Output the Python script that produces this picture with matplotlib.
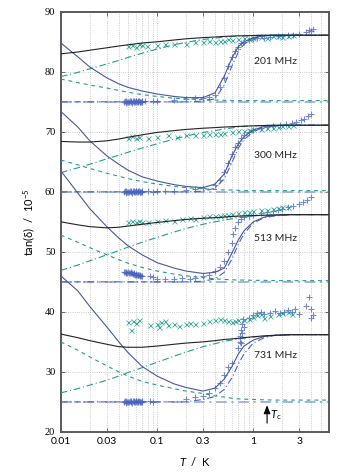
import matplotlib
matplotlib.use("Agg")
import matplotlib.pyplot as plt
from matplotlib.ticker import FixedLocator, NullFormatter

plt.rcParams['font.family'] = ['Lato', 'DejaVu Sans']
plt.rcParams['mathtext.fontset'] = 'custom'
plt.rcParams['mathtext.it'] = 'Lato:italic'
plt.rcParams['mathtext.rm'] = 'Lato'

# frequencies and baselines
freq_labels = ["201 MHz", "300 MHz", "513 MHz", "731 MHz"]
baselines = [75, 60, 45, 25]
label_y = [81.8, 66.0, 52.3, 32.8]

# temperature grid of the fit curves (K)
T_fit = [0.01, 0.015, 0.02, 0.03, 0.04, 0.05, 0.07, 0.1, 0.15, 0.2, 0.3, 0.4,
         0.5, 0.6, 0.7, 0.8, 1.0, 1.3, 1.7, 2.5, 4.0, 6.0]

# 201 MHz
f201_upper = [83.0, 83.3, 83.6, 84.0, 84.3, 84.5, 84.8, 85.0, 85.3, 85.5, 85.7, 85.8,
              85.9, 85.95, 86.0, 86.0, 86.05, 86.1, 86.1, 86.1, 86.1, 86.1]
f201_rel = [79.2, 79.9, 80.5, 81.3, 81.9, 82.4, 83.1, 83.8, 84.5, 84.9, 85.4, 85.6,
            85.8, 85.9, 85.95, 86.0, 86.05, 86.1, 86.1, 86.1, 86.1, 86.1]
f201_res = [78.8, 78.2, 77.8, 77.3, 76.9, 76.6, 76.2, 75.9, 75.6, 75.5, 75.35, 75.3,
            75.25, 75.2, 75.2, 75.2, 75.2, 75.2, 75.2, 75.2, 75.2, 75.2]
f201_lower = [84.8, 82.5, 80.8, 79.0, 78.0, 77.4, 76.8, 76.3, 75.9, 75.7, 75.7, 76.5,
              79.3, 82.3, 84.2, 85.0, 85.7, 86.0, 86.1, 86.1, 86.1, 86.1]
f201_qp = [75.0, 75.0, 75.0, 75.0, 75.0, 75.0, 75.0, 75.0, 75.0, 75.0, 75.1, 75.5,
           77.8, 81.0, 83.3, 84.6, 85.6, 86.0, 86.1, 86.1, 86.1, 86.1]

# 300 MHz
f300_upper = [68.4, 68.3, 68.3, 68.5, 68.8, 69.1, 69.5, 69.9, 70.2, 70.4, 70.6, 70.7,
              70.8, 70.85, 70.9, 70.95, 71.0, 71.05, 71.1, 71.1, 71.1, 71.1]
f300_rel = [63.2, 64.0, 64.6, 65.5, 66.1, 66.6, 67.3, 68.0, 68.8, 69.3, 69.9, 70.2,
            70.5, 70.65, 70.8, 70.9, 71.0, 71.05, 71.1, 71.1, 71.1, 71.1]
f300_res = [65.3, 64.5, 63.9, 63.1, 62.6, 62.2, 61.7, 61.3, 60.9, 60.7, 60.5, 60.4,
            60.3, 60.3, 60.25, 60.2, 60.2, 60.2, 60.2, 60.2, 60.2, 60.2]
f300_lower = [73.4, 70.8, 68.5, 66.0, 64.6, 63.6, 62.5, 61.8, 61.2, 60.9, 60.7, 61.3,
              63.0, 66.0, 68.0, 69.2, 70.3, 70.9, 71.05, 71.1, 71.1, 71.1]
f300_qp = [60.0, 60.0, 60.0, 60.0, 60.0, 60.0, 60.0, 60.0, 60.0, 60.0, 60.1, 60.6,
           62.2, 64.9, 67.3, 68.7, 70.0, 70.8, 71.0, 71.1, 71.1, 71.1]

# 513 MHz
f513_upper = [55.0, 54.5, 54.2, 54.0, 54.1, 54.3, 54.6, 54.9, 55.2, 55.4, 55.6, 55.7,
              55.8, 55.9, 55.95, 56.0, 56.05, 56.1, 56.15, 56.2, 56.2, 56.2]
f513_rel = [46.9, 47.8, 48.5, 49.5, 50.2, 50.8, 51.6, 52.4, 53.3, 53.9, 54.6, 55.0,
            55.3, 55.5, 55.7, 55.8, 56.0, 56.1, 56.15, 56.2, 56.2, 56.2]
f513_res = [52.8, 51.6, 50.7, 49.5, 48.7, 48.1, 47.4, 46.8, 46.3, 46.0, 45.7, 45.5,
            45.4, 45.35, 45.3, 45.3, 45.25, 45.25, 45.2, 45.2, 45.2, 45.2]
f513_lower = [63.5, 59.8, 57.2, 54.2, 52.3, 51.0, 49.5, 48.2, 47.3, 46.8, 46.4, 46.6,
              47.3, 49.8, 52.0, 53.5, 55.0, 55.8, 56.1, 56.2, 56.2, 56.2]
f513_qp = [45.0, 45.0, 45.0, 45.0, 45.0, 45.0, 45.0, 45.0, 45.0, 45.0, 45.1, 45.5,
           46.6, 48.8, 51.3, 53.0, 54.8, 55.7, 56.0, 56.2, 56.2, 56.2]

# 731 MHz
f731_upper = [36.3, 35.7, 35.2, 34.6, 34.2, 34.1, 34.1, 34.3, 34.6, 34.8, 35.0, 35.2,
              35.4, 35.5, 35.6, 35.7, 35.85, 36.0, 36.1, 36.2, 36.2, 36.2]
f731_rel = [26.5, 27.2, 27.8, 28.6, 29.3, 29.9, 30.7, 31.6, 32.6, 33.3, 34.2, 34.7,
            35.1, 35.3, 35.5, 35.6, 35.8, 36.0, 36.1, 36.2, 36.2, 36.2]
f731_res = [35.0, 33.6, 32.5, 31.0, 30.0, 29.3, 28.4, 27.8, 27.2, 26.8, 26.4, 26.0,
            25.8, 25.6, 25.5, 25.45, 25.4, 25.35, 25.3, 25.3, 25.3, 25.3]
f731_lower = [46.0, 43.5, 40.9, 37.5, 35.0, 33.2, 30.9, 29.3, 28.0, 27.4, 26.8, 27.3,
              28.8, 30.9, 33.0, 34.3, 35.3, 35.9, 36.1, 36.2, 36.2, 36.2]
f731_qp = [25.0, 25.0, 25.0, 25.0, 25.0, 25.0, 25.0, 25.0, 25.0, 25.0, 25.4, 25.9,
           27.1, 29.0, 31.3, 33.0, 34.8, 35.7, 36.1, 36.2, 36.2, 36.2]

# measured points, "+" series
p201_T = [0.045, 0.046, 0.047, 0.048, 0.049, 0.05, 0.051, 0.052, 0.053, 0.054, 0.055, 0.056,
          0.057, 0.058, 0.059, 0.06, 0.061, 0.062, 0.063, 0.064, 0.065, 0.066, 0.067, 0.068,
          0.069, 0.07, 0.075, 0.09, 0.1, 0.15, 0.2, 0.25, 0.3, 0.35, 0.4,
          0.45, 0.5, 0.55, 0.6, 0.65, 0.7, 0.75, 0.8, 0.9, 1.0, 1.1, 1.3, 1.5, 1.8, 2.0,
          2.3, 2.6, 3.0, 3.5, 3.8, 4.0, 4.2]
p201_y = [75.0, 75.2, 74.8, 75.2, 74.9, 75.0, 74.9, 75.1, 75.2, 75.0, 74.8, 75.1,
          75.2, 75.0, 74.9, 75.1, 75.2, 74.9, 75.0, 75.1, 75.2, 74.9, 75.0, 74.9,
          75.1, 75.0, 75.1, 75.1, 75.2, 75.3, 75.5, 75.6, 75.7, 75.8, 76.2,
          77.5, 79.0, 81.0, 82.5, 83.5, 84.2, 84.8, 85.0, 85.3, 85.5, 85.6, 85.7, 85.8, 85.9, 86.0,
          86.1, 86.2, 86.3, 86.6, 87.0, 86.8, 87.2]
p300_T = [0.045, 0.046, 0.047, 0.048, 0.049, 0.05, 0.051, 0.052, 0.053, 0.054, 0.055, 0.056,
          0.057, 0.058, 0.059, 0.06, 0.061, 0.062, 0.063, 0.064, 0.065, 0.066, 0.067, 0.068,
          0.069, 0.07, 0.08, 0.09, 0.1, 0.12, 0.15, 0.2, 0.25, 0.3, 0.4, 0.45,
          0.5, 0.55, 0.6, 0.65, 0.7, 0.75, 0.8, 0.9, 1.0, 1.2, 1.4, 1.6, 1.9, 2.2, 2.5, 2.8,
          3.1, 3.4, 3.7, 4.0]
p300_y = [60.0, 60.2, 59.8, 60.2, 59.9, 60.0, 59.9, 60.1, 60.2, 60.0, 59.8, 60.1,
          60.2, 60.0, 59.9, 60.1, 60.2, 59.9, 60.0, 60.1, 60.2, 59.9, 60.0, 59.9,
          60.1, 60.0, 60.1, 60.0, 60.1, 60.1, 60.2, 60.3, 60.4, 60.6, 61.2, 62.0,
          63.3, 64.8, 66.3, 67.4, 68.2, 68.9, 69.5, 70.0, 70.3, 70.6, 70.8, 71.0, 71.2, 71.3, 71.4, 71.6,
          71.9, 72.2, 72.6, 72.9]
p513_T = [0.045, 0.046, 0.047, 0.048, 0.049, 0.05, 0.051, 0.052, 0.053, 0.054, 0.055, 0.056,
          0.057, 0.058, 0.059, 0.06, 0.061, 0.062, 0.063, 0.064, 0.065, 0.066, 0.067, 0.068,
          0.07, 0.085, 0.09, 0.1, 0.12, 0.15, 0.18, 0.22, 0.25, 0.3, 0.35, 0.4, 0.45, 0.5,
          0.55, 0.6, 0.62, 0.65, 0.7, 0.75, 0.8, 0.9, 1.0, 1.2, 1.4, 1.6, 1.8, 2.0, 2.3, 2.6,
          3.0, 3.3, 3.6, 4.0]
p513_y = [46.6, 46.7, 46.5, 46.6, 46.4, 46.6, 46.5, 46.4, 46.6, 46.5, 46.4, 46.3,
          46.3, 46.4, 46.2, 46.2, 46.3, 46.2, 46.1, 46.2, 46.1, 46.0, 46.1, 46.0,
          46.0, 45.9, 45.8, 45.5, 45.4, 45.5, 45.6, 45.5, 45.7, 45.9, 46.2, 46.8, 47.5, 48.5,
          50.0, 51.5, 53.0, 54.0, 55.0, 55.5, 55.8, 56.0, 56.2, 56.4, 56.6, 56.8, 57.0, 57.2, 57.4, 57.7,
          58.0, 58.3, 58.7, 59.2]
p731_T = [0.045, 0.046, 0.047, 0.048, 0.049, 0.05, 0.051, 0.052, 0.053, 0.054, 0.055, 0.056,
          0.057, 0.058, 0.059, 0.06, 0.061, 0.062, 0.063, 0.064, 0.065, 0.066, 0.067, 0.068,
          0.069, 0.07, 0.085, 0.09, 0.2, 0.25, 0.3, 0.35, 0.4, 0.45, 0.5, 0.55,
          0.6, 0.7, 0.72, 0.73, 0.74, 0.75, 0.76, 0.77, 0.78, 0.8, 0.9, 1.0, 1.1, 1.2, 1.3,
          1.5, 1.7, 1.9, 2.1, 2.3, 2.5, 2.7, 3.0, 3.5, 3.8, 4.0, 4.2, 4.0]
p731_y = [25.0, 25.2, 24.8, 25.2, 24.9, 25.0, 24.9, 25.1, 25.2, 25.0, 24.8, 25.1,
          25.2, 25.0, 24.9, 25.1, 25.2, 24.9, 25.0, 25.1, 25.2, 24.9, 25.0, 24.9,
          25.1, 25.0, 25.1, 25.0, 25.5, 25.8, 26.0, 26.5, 27.3, 28.2, 29.5, 30.8,
          31.5, 34.0, 35.0, 36.0, 34.8, 37.0, 38.0, 36.5, 38.8, 37.5, 39.0, 39.5, 39.8, 40.0, 39.6,
          39.8, 40.2, 39.8, 40.0, 40.3, 39.9, 40.5, 39.6, 41.0, 42.5, 40.5, 39.5, 39.0]

# measured points, "x" series
x201_T = [0.05, 0.055, 0.06, 0.065, 0.07, 0.078, 0.1, 0.12, 0.15, 0.2, 0.25, 0.3, 0.35,
          0.4, 0.45, 0.5, 0.55, 0.6, 0.7, 0.8, 0.9, 1.0, 1.2, 1.4, 1.6, 1.8, 2.0, 2.3, 2.6]
x201_y = [84.3, 84.5, 84.2, 84.6, 84.4, 84.3, 84.5, 84.6, 84.7, 84.6, 84.9, 85.0, 85.1,
          85.0, 85.2, 85.2, 85.4, 85.3, 85.5, 85.6, 85.5, 85.7, 85.8, 85.7, 85.9, 86.0, 85.8, 86.0, 86.1]
x300_T = [0.05, 0.055, 0.06, 0.065, 0.08, 0.1, 0.13, 0.16, 0.2, 0.25, 0.3, 0.35, 0.4,
          0.45, 0.5, 0.6, 0.7, 0.8, 0.9, 1.0, 1.2, 1.4, 1.6, 1.8, 2.0, 2.3, 2.6]
x300_y = [69.0, 69.3, 68.9, 69.2, 69.0, 69.2, 69.4, 69.2, 69.4, 69.5, 69.5, 69.6, 69.6,
          69.7, 69.8, 69.9, 70.1, 70.2, 70.3, 70.4, 70.5, 70.6, 70.7, 70.8, 70.9, 71.0, 71.1]
x513_T = [0.05, 0.055, 0.06, 0.065, 0.07, 0.08, 0.1, 0.12, 0.15, 0.18, 0.22, 0.25, 0.3,
          0.35, 0.4, 0.45, 0.5, 0.55, 0.6, 0.7, 0.8, 0.9, 1.0, 1.2, 1.4, 1.6, 1.8, 2.0, 2.3]
x513_y = [55.0, 55.2, 54.9, 55.1, 55.0, 55.0, 55.1, 55.3, 55.2, 55.5, 55.6, 55.5, 55.8,
          55.9, 56.0, 55.9, 56.1, 56.2, 56.3, 56.4, 56.6, 56.7, 56.8, 56.9, 57.0, 57.1, 57.3, 57.4, 57.5]
x731_T = [0.05, 0.053, 0.056, 0.06, 0.065, 0.085, 0.1, 0.105, 0.11, 0.12, 0.13, 0.15, 0.17,
          0.2, 0.22, 0.25, 0.3, 0.35, 0.4, 0.45, 0.5, 0.55, 0.6, 0.65, 0.7, 0.8, 0.9, 1.0,
          1.1, 1.2, 1.3, 1.5, 1.8, 2.0, 2.3, 2.5]
x731_y = [38.3, 37.0, 38.5, 38.2, 38.6, 37.8, 37.9, 37.4, 38.3, 38.5, 37.8, 37.9, 37.6,
          38.0, 38.1, 38.0, 38.2, 38.4, 38.7, 38.8, 38.6, 38.5, 38.3, 38.5, 38.7, 38.6, 38.8, 39.2,
          39.5, 39.6, 38.9, 39.3, 39.6, 39.8, 40.0, 39.7]

groups = [
    (f201_upper, f201_rel, f201_res, f201_lower, f201_qp, p201_T, p201_y, x201_T, x201_y),
    (f300_upper, f300_rel, f300_res, f300_lower, f300_qp, p300_T, p300_y, x300_T, x300_y),
    (f513_upper, f513_rel, f513_res, f513_lower, f513_qp, p513_T, p513_y, x513_T, x513_y),
    (f731_upper, f731_rel, f731_res, f731_lower, f731_qp, p731_T, p731_y, x731_T, x731_y),
]

teal = "#1f9e8c"
blue = "#4a63c0"
lightblue = "#8a9fdc"
darkblue = "#4a5899"

fig = plt.figure(figsize=(3.38, 4.72), dpi=100)
ax = fig.add_axes([0.180, 0.085, 0.793, 0.890])

for i, (up, rel, res, low, qp, pT, py, xT, xy) in enumerate(groups):
    ax.axhline(baselines[i], color=lightblue, lw=1.1, dashes=(7, 3, 1.5, 3), zorder=2)
    ax.plot(pT, py, ls="none", marker="+", ms=4.5, mew=0.8, color=blue, alpha=0.75, zorder=3)
    ax.plot(xT, xy, ls="none", marker="x", ms=3.6, mew=0.6, color=teal, alpha=0.85, zorder=3)
    ax.plot(T_fit, rel, color=teal, lw=0.8, dashes=(6, 2.5, 1, 2.5), zorder=4)
    ax.plot(T_fit, res, color=teal, lw=0.8, dashes=(3.5, 3.5), zorder=4)
    ax.plot(T_fit, qp, color=blue, lw=0.8, dashes=(6, 2.5, 1, 2.5), zorder=4)
    ax.plot(T_fit, low, color=darkblue, lw=0.8, zorder=5)
    ax.plot(T_fit, up, color="#222222", lw=0.8, zorder=5)
    ax.text(1.02, label_y[i], freq_labels[i], fontsize=7.5, color="#222222",
            va="center", ha="left", zorder=6,
            bbox=dict(facecolor="white", edgecolor="none", pad=0.5))

ax.annotate("", xy=(1.39, 24.9), xytext=(1.39, 21.0),
            arrowprops=dict(arrowstyle="-|>,head_length=0.5,head_width=0.2", color="black", lw=0.8))
ax.text(1.48, 22.3, r"$T_\mathrm{c}$", fontsize=8)

ax.set_xscale("log")
ax.set_xlim(0.01, 6.1)
ax.set_ylim(20, 90)
ax.xaxis.set_major_locator(FixedLocator([0.01, 0.03, 0.1, 0.3, 1, 3]))
ax.set_xticklabels(["0.01", "0.03", "0.1", "0.3", "1", "3"])
ax.xaxis.set_minor_locator(FixedLocator([0.02, 0.04, 0.05, 0.06, 0.07, 0.08, 0.09, 0.2, 0.4, 0.5,
                                         0.6, 0.7, 0.8, 0.9, 2, 4, 5, 6]))
ax.xaxis.set_minor_formatter(NullFormatter())
ax.set_yticks([20, 30, 40, 50, 60, 70, 80, 90])
for lab in ax.get_yticklabels():
    lab.set_family("Liberation Serif")
ax.grid(True, which="both", axis="x", color="#bbbbbb", ls=":", lw=0.6)
ax.grid(True, which="major", axis="y", color="#bbbbbb", ls=":", lw=0.6)
ax.tick_params(which="both", direction="in", top=True, right=True, labelsize=7.5,
               length=3, width=0.6, color="#555555", pad=4)
ax.tick_params(which="minor", length=0)
for s in ax.spines.values():
    s.set_color("#5a5a5a")
    s.set_linewidth(1.4)

ax.set_xlabel(r"$T$  /  K", fontsize=8, labelpad=6)
ax.set_ylabel(r"tan(δ)  /  10$^{-5}$", fontsize=8, labelpad=6)

fig.savefig("out.png", dpi=100)
